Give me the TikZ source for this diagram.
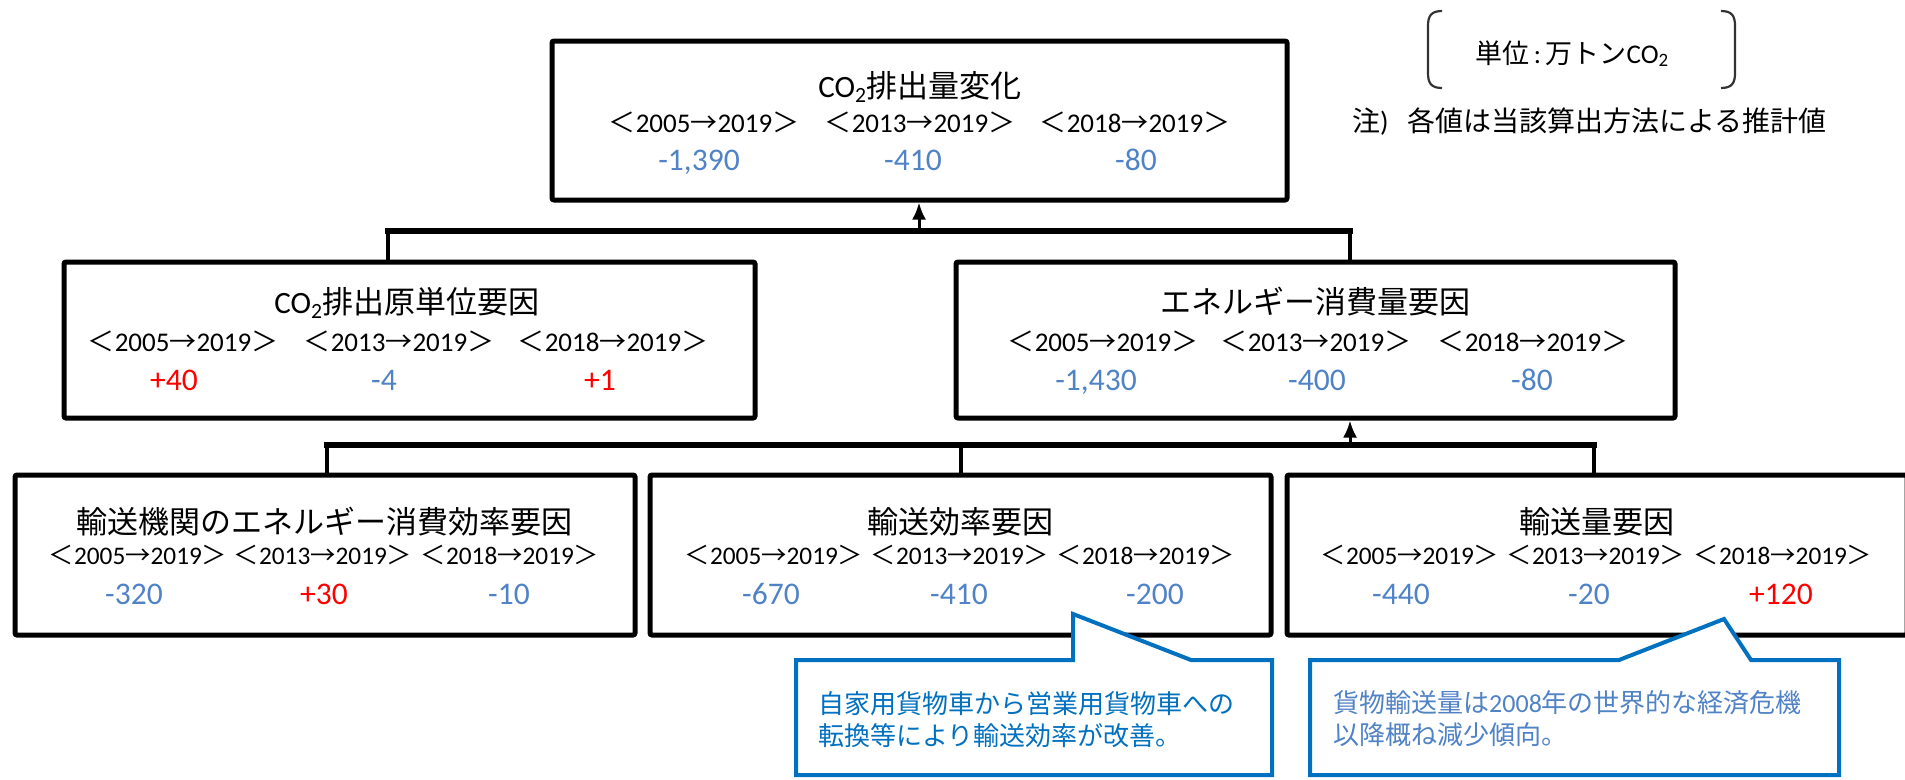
\documentclass[tikz,border=0pt]{standalone}
\usepackage{fontspec}
\setmainfont{Carlito}
\newfontfamily\jp{Noto Sans CJK JP}
\usetikzlibrary{arrows.meta}
\definecolor{nblue}{RGB}{80,130,198}
\definecolor{nred}{RGB}{255,0,0}
\definecolor{cblue}{RGB}{0,112,192}
\newcommand{\prd}[2]{{\jp ＜}#1{\jp →}#2{\jp ＞}}
\begin{document}
\begin{tikzpicture}[x=1pt,y=-1pt,
  box/.style={draw=black, line width=5pt, rectangle, inner sep=0pt, outer sep=2.5pt, rounded corners=2pt},
  txt/.style={inner sep=0pt, anchor=base},
  ttl/.style={txt, font=\fontsize{31}{34}\selectfont},
  prdA/.style={txt, font=\fontsize{27}{30}\selectfont},
  prdB/.style={txt, font=\fontsize{25.3}{28}\selectfont},
  nb/.style={txt, font=\fontsize{31.5}{34}\selectfont, text=nblue},
  nr/.style={txt, font=\fontsize{31.5}{34}\selectfont, text=nred},
  hbar/.style={line width=6pt, line cap=rect},
  vdrop/.style={line width=4.5pt},
  arr/.style={line width=3pt, -{Latex[length=17pt,width=14pt]}},
  callout/.style={draw=cblue, line width=4pt, fill=white, line join=miter},
  ctxt/.style={inner sep=0pt, anchor=base west, font=\fontsize{26}{30}\selectfont},
  brk/.style={line width=2.2pt, draw=black!80}]
\useasboundingbox (0,0) rectangle (1905,779);

% boxes
\node[box, minimum width=735pt, minimum height=159pt] (top) at (919.5,120.5) {};
\node[box, minimum width=691pt, minimum height=156pt] (L2a) at (409.5,340) {};
\node[box, minimum width=719pt, minimum height=156pt] (L2b) at (1315.5,340) {};
\node[box, minimum width=620pt, minimum height=160pt] (L3a) at (325,555) {};
\node[box, minimum width=621pt, minimum height=160pt] (L3b) at (960.5,555) {};
\node[box, minimum width=620pt, minimum height=160pt] (L3c) at (1597,555) {};

% connectors level 1
\coordinate (j1a) at (388,231);
\coordinate (j1b) at (1350,231);
\coordinate (j1m) at (919,231);
\draw[hbar] (j1a) -- (j1b);
\draw[vdrop] (j1a) -- (j1a |- L2a.north);
\draw[vdrop] (j1b) -- (j1b |- L2b.north);
\draw[arr] (j1m) -- (j1m |- top.south);

% connectors level 2
\coordinate (j2a) at (327,445);
\coordinate (j2m) at (961,445);
\coordinate (j2c) at (1594,445);
\coordinate (j2r) at (1350,445);
\draw[hbar] (j2a) -- (j2c);
\draw[vdrop] (j2a) -- (j2a |- L3a.north);
\draw[vdrop] (j2m) -- (j2m |- L3b.north);
\draw[vdrop] (j2c) -- (j2c |- L3c.north);
\draw[arr] (j2r) -- (j2r |- L2b.south);

% top box texts
\node[ttl] (t0) at (920,97) {CO\textsubscript{2}{\jp 排出量変化}};
\node[prdA] (t0p1) at (704,132) {\prd{2005}{2019}};
\node[prdA] (t0p2) at (920,132) {\prd{2013}{2019}};
\node[prdA] (t0p3) at (1135,132) {\prd{2018}{2019}};
\node[nb] (t0n1) at (699,170) {-1,390};
\node[nb] (t0n2) at (913,170) {-410};
\node[nb] (t0n3) at (1136,170) {-80};

% level 2 left
\node[ttl] (t1) at (407,313) {CO\textsubscript{2}{\jp 排出原単位要因}};
\node[prdA] (t1p1) at (183,351) {\prd{2005}{2019}};
\node[prdA] (t1p2) at (399,351) {\prd{2013}{2019}};
\node[prdA] (t1p3) at (613,351) {\prd{2018}{2019}};
\node[nr] (t1n1) at (174,390) {+40};
\node[nb] (t1n2) at (384,390) {-4};
\node[nr] (t1n3) at (600,390) {+1};

% level 2 right
\node[ttl] (t2) at (1315,313) {\jp エネルギー消費量要因};
\node[prdA] (t2p1) at (1103,351) {\prd{2005}{2019}};
\node[prdA] (t2p2) at (1316,351) {\prd{2013}{2019}};
\node[prdA] (t2p3) at (1533,351) {\prd{2018}{2019}};
\node[nb] (t2n1) at (1096,390) {-1,430};
\node[nb] (t2n2) at (1317,390) {-400};
\node[nb] (t2n3) at (1532,390) {-80};

% level 3 a
\node[ttl] (t3) at (324,533) {\jp 輸送機関のエネルギー消費効率要因};
\node[prdB] (t3p1) at (138,564) {\prd{2005}{2019}};
\node[prdB] (t3p2) at (323,564) {\prd{2013}{2019}};
\node[prdB] (t3p3) at (510,564) {\prd{2018}{2019}};
\node[nb] (t3n1) at (134,604) {-320};
\node[nr] (t3n2) at (324,604) {+30};
\node[nb] (t3n3) at (509,604) {-10};

% level 3 b
\node[ttl] (t4) at (960,533) {\jp 輸送効率要因};
\node[prdB] (t4p1) at (774,564) {\prd{2005}{2019}};
\node[prdB] (t4p2) at (960,564) {\prd{2013}{2019}};
\node[prdB] (t4p3) at (1146,564) {\prd{2018}{2019}};
\node[nb] (t4n1) at (771,604) {-670};
\node[nb] (t4n2) at (959,604) {-410};
\node[nb] (t4n3) at (1155,604) {-200};

% level 3 c
\node[ttl] (t5) at (1597,533) {\jp 輸送量要因};
\node[prdB] (t5p1) at (1410,564) {\prd{2005}{2019}};
\node[prdB] (t5p2) at (1596,564) {\prd{2013}{2019}};
\node[prdB] (t5p3) at (1783,564) {\prd{2018}{2019}};
\node[nb] (t5n1) at (1401,604) {-440};
\node[nb] (t5n2) at (1589,604) {-20};
\node[nr] (t5n3) at (1781,604) {+120};

% callouts
\draw[callout] (796,660) -- (1073,660) -- (1073,614) -- (1191,660) -- (1272,660) -- (1272,775) -- (796,775) -- cycle;
\node[ctxt, text=cblue] (c1a) at (818,713) {\jp 自家用貨物車から営業用貨物車への};
\node[ctxt, text=cblue] (c1b) at (818,745) {\jp 転換等により輸送効率が改善。};
\draw[callout] (1310,660) -- (1619,660) -- (1724,619) -- (1751,660) -- (1839,660) -- (1839,775) -- (1310,775) -- cycle;
\node[ctxt, text=nblue] (c2a) at (1333,712) {{\jp 貨物輸送量は}2008{\jp 年の世界的な経済危機}};
\node[ctxt, text=nblue] (c2b) at (1333,744) {\jp 以降概ね減少傾向。};

% unit bracket
\draw[brk] (1442,11) .. controls (1431,11) and (1428,16) .. (1428,26) -- (1428,73) .. controls (1428,83) and (1431,88) .. (1442,88);
\draw[brk] (1721,11) .. controls (1732,11) and (1735,16) .. (1735,26) -- (1735,73) .. controls (1735,83) and (1732,88) .. (1721,88);
\node[txt, font=\fontsize{27}{30}\selectfont] (unit) at (1572,63) {{\jp 単位}\,:\,{\jp 万トン}CO\textsubscript{2}};

% note
\node[inner sep=0pt, anchor=base west, font=\fontsize{28}{30}\selectfont] (note) at (1352,131) {{\jp 注})\hspace{19pt}{\jp 各値は当該算出方法による推計値}};
\end{tikzpicture}
\end{document}
